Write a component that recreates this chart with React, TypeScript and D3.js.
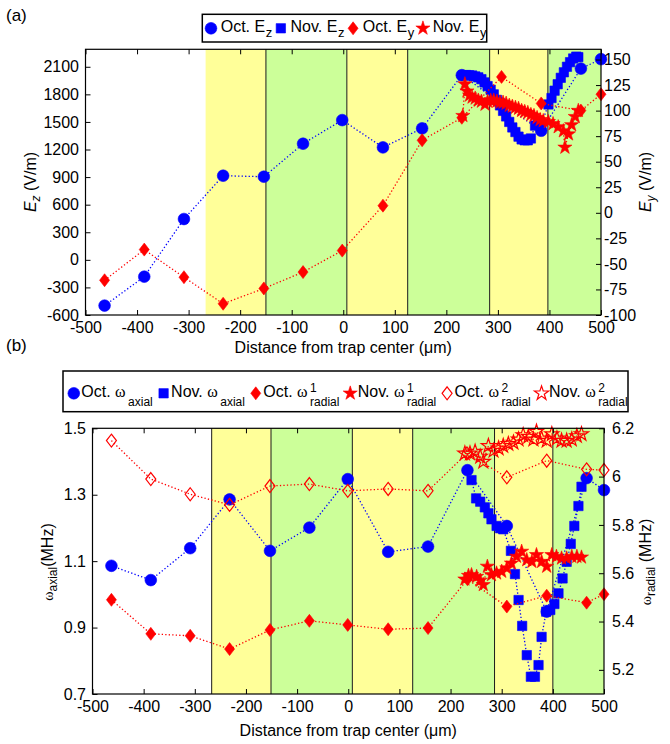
import React, { useEffect, useRef } from 'react';
import * as d3 from 'd3';

type Pt = [number, number];

const FONT = '"Liberation Sans", Arial, Helvetica, sans-serif';
const SYM_FONT = '"Liberation Serif", "DejaVu Serif", serif';
const BLUE = '#0000ff';
const RED = '#ff0000';

// ---------- panel (a): E fields vs distance (um) ----------
const octEz: Pt[] = [[-463, -498], [-386, -183], [-309, 444], [-233, 915], [-154, 904], [-78, 1263], [-2, 1520], [77, 1223], [153, 1430], [230, 2009], [307, 1700], [384, 1404], [461, 2080], [500, 2183]];
const novEz: Pt[] = [[232, 2005], [238, 2010], [244, 2008], [250, 2005], [256, 1995], [262, 1985], [268, 1965], [274, 1930], [280, 1890], [286, 1850], [292, 1800], [298, 1740], [304, 1680], [310, 1620], [316, 1560], [322, 1500], [328, 1440], [334, 1390], [340, 1340], [346, 1310], [352, 1300], [358, 1300], [364, 1320], [372, 1460], [378, 1480], [384, 1470], [398, 1690], [404, 1760], [410, 1840], [416, 1910], [422, 1980], [428, 2040], [434, 2100], [440, 2150], [446, 2190], [452, 2210], [456, 2205]];
const octEy: Pt[] = [[-463, -66], [-386, -36], [-309, -63], [-233, -89], [-154, -74], [-78, -58], [-2, -37], [77, 7], [153, 71], [230, 93], [307, 133], [384, 107], [461, 100], [500, 116]];
const novEy: Pt[] = [[232, 95], [236, 126], [240, 119], [245, 115], [250, 113], [256, 112], [262, 110], [268, 109], [275, 106], [280, 109], [286, 110], [292, 110], [298, 109], [304, 108], [310, 108], [316, 107], [322, 105], [328, 104], [334, 103], [340, 102], [346, 100], [352, 99], [358, 98], [364, 96], [370, 95], [376, 93], [382, 91], [388, 90], [398, 89], [407, 87], [417, 84], [427, 80], [430, 64], [437, 77], [443, 86], [450, 94], [456, 100]];

const xTicks = [-500, -400, -300, -200, -100, 0, 100, 200, 300, 400, 500];
const ezTicks = [-600, -300, 0, 300, 600, 900, 1200, 1500, 1800, 2100];
const eyTicks = [-100, -75, -50, -25, 0, 25, 50, 75, 100, 125, 150];

// ---------- panel (b): trap frequencies (MHz) ----------
const octAxial: Pt[] = [[-463, 1.086], [-386, 1.043], [-309, 1.139], [-232, 1.286], [-153, 1.131], [-76, 1.201], [-1, 1.347], [78, 1.128], [156, 1.144], [233, 1.374], [310, 1.206], [388, 0.948], [466, 1.35], [500, 1.314]];
const novAxial: Pt[] = [[241, 1.344], [250, 1.289], [258, 1.279], [267, 1.262], [274, 1.244], [280, 1.226], [290, 1.206], [297, 1.199], [303, 1.196], [318, 1.131], [326, 1.061], [333, 0.983], [340, 0.905], [349, 0.817], [357, 0.752], [365, 0.752], [372, 0.787], [378, 0.872], [387, 0.948], [395, 0.953], [403, 0.971], [411, 1.003], [419, 1.048], [427, 1.098], [435, 1.152], [442, 1.206], [450, 1.266], [456, 1.324]];
const octRad1: Pt[] = [[-463, 5.49], [-386, 5.349], [-309, 5.341], [-232, 5.286], [-153, 5.365], [-76, 5.403], [-1, 5.386], [78, 5.368], [156, 5.373], [233, 5.575], [310, 5.462], [388, 5.507], [466, 5.478], [500, 5.513]];
const novRad1: Pt[] = [[228, 5.575], [235, 5.59], [241, 5.593], [251, 5.586], [258, 5.57], [264, 5.552], [272, 5.628], [280, 5.593], [290, 5.6], [300, 5.607], [310, 5.621], [319, 5.641], [329, 5.669], [339, 5.69], [349, 5.655], [359, 5.648], [368, 5.676], [378, 5.648], [388, 5.628], [398, 5.676], [407, 5.669], [417, 5.662], [427, 5.662], [437, 5.669], [447, 5.669], [456, 5.666]];
const octRad2: Pt[] = [[-463, 6.149], [-386, 5.99], [-309, 5.927], [-232, 5.883], [-153, 5.961], [-76, 5.969], [-1, 5.941], [78, 5.949], [156, 5.941], [232, 6.096], [310, 5.997], [388, 6.066], [466, 6.03], [500, 6.027]];
const novRad2: Pt[] = [[228, 6.096], [238, 6.096], [248, 6.103], [258, 6.083], [264, 6.062], [274, 6.127], [284, 6.107], [294, 6.117], [303, 6.127], [313, 6.135], [323, 6.141], [333, 6.154], [342, 6.172], [352, 6.165], [362, 6.154], [368, 6.186], [378, 6.158], [388, 6.149], [398, 6.176], [408, 6.158], [417, 6.149], [427, 6.149], [437, 6.154], [447, 6.168], [456, 6.176]];

const axialTicks = [0.7, 0.9, 1.1, 1.3, 1.5];
const radialTicks = [5.2, 5.4, 5.6, 5.8, 6, 6.2];

// electrode regions (um), alternating yellow / green
const regionEdgesA = [-267, -150, 7, 125, 284, 397, 500];
const regionEdgesB = [-267, -151, 8, 126, 286, 400, 500];
const regionFill = ['#ffff99', '#ccff99', '#ffff99', '#ccff99', '#ffff99', '#ccff99'];

const diamondPath = (w: number, h: number) => `M0,${-h / 2}L${w / 2},0L0,${h / 2}L${-w / 2},0Z`;

function markerPath(kind: string): string {
  if (kind === 'circle') return d3.symbol(d3.symbolCircle, 108)() as string;
  if (kind === 'square') return d3.symbol(d3.symbolSquare, 88)() as string;
  if (kind === 'diamond') return diamondPath(10, 13);
  return d3.symbol(d3.symbolStar, 62)() as string;
}

function addMarker(g: any, kind: string, filled: boolean, color: string, x: number, y: number) {
  g.append('path')
    .attr('d', markerPath(kind))
    .attr('transform', `translate(${x},${y})`)
    .attr('fill', filled ? color : 'none')
    .attr('stroke', color)
    .attr('stroke-width', filled ? 0.6 : 1.2);
}

function styleAxis(ax: any) {
  ax.select('.domain').remove();
  ax.attr('color', '#000');
  ax.selectAll('text')
    .attr('font-size', 16)
    .attr('font-family', FONT)
    .attr('fill', '#000');
}

function drawPanel(svg: any, p: any) {
  const { box, yL, yR, edges, firstLine, series, ticksL, ticksR, padR } = p;
  const x = d3.scaleLinear().domain([-500, 500]).range([box.left, box.right]);
  const yl = d3.scaleLinear().domain(yL).range([box.bottom, box.top]);
  const yr = d3.scaleLinear().domain(yR).range([box.bottom, box.top]);
  const g = svg.append('g');

  // shaded electrode regions
  edges.slice(0, -1).forEach((e: number, i: number) => {
    g.append('rect')
      .attr('x', x(e))
      .attr('y', box.top)
      .attr('width', x(edges[i + 1]) - x(e))
      .attr('height', box.bottom - box.top)
      .attr('fill', regionFill[i]);
  });
  edges.slice(firstLine ? 0 : 1, -1).forEach((e: number) => {
    g.append('line')
      .attr('x1', x(e)).attr('x2', x(e))
      .attr('y1', box.top).attr('y2', box.bottom)
      .attr('stroke', '#1a1a1a')
      .attr('stroke-width', 1);
  });

  // series: dotted line + markers
  series.forEach((s: any) => {
    const ys = s.side === 'L' ? yl : yr;
    g.append('path')
      .datum(s.data)
      .attr('d', d3.line<Pt>().x(d => x(d[0])).y(d => ys(d[1])))
      .attr('fill', 'none')
      .attr('stroke', s.color)
      .attr('stroke-width', 1.3)
      .attr('stroke-dasharray', '1.3 2.2');
    s.data.forEach((d: Pt) => addMarker(g, s.marker, s.filled, s.color, x(d[0]), ys(d[1])));
  });

  // frame
  g.append('rect')
    .attr('x', box.left).attr('y', box.top)
    .attr('width', box.right - box.left).attr('height', box.bottom - box.top)
    .attr('fill', 'none').attr('stroke', '#000').attr('stroke-width', 1.2);

  const fmt = (d: any) => String(d);
  const axB = g.append('g').attr('transform', `translate(0,${box.bottom})`)
    .call(d3.axisBottom(x).tickValues(xTicks).tickSizeInner(-5).tickSizeOuter(0).tickPadding(6.5).tickFormat(fmt));
  styleAxis(axB);
  const axT = g.append('g').attr('transform', `translate(0,${box.top})`)
    .call(d3.axisTop(x).tickValues(xTicks).tickSizeInner(-5).tickSizeOuter(0).tickFormat(() => ''));
  styleAxis(axT);
  const axL = g.append('g').attr('transform', `translate(${box.left},0)`)
    .call(d3.axisLeft(yl).tickValues(ticksL).tickSizeInner(-5).tickSizeOuter(0).tickPadding(6.5).tickFormat(fmt));
  styleAxis(axL);
  const axR = g.append('g').attr('transform', `translate(${box.right},0)`)
    .call(d3.axisRight(yr).tickValues(ticksR).tickSizeInner(-5).tickSizeOuter(0).tickPadding(padR).tickFormat(fmt));
  styleAxis(axR);

  // x label
  g.append('text')
    .attr('x', (box.left + box.right) / 2)
    .attr('y', p.xLabelY)
    .attr('text-anchor', 'middle')
    .attr('font-family', FONT)
    .attr('font-size', 16)
    .text('Distance from trap center (\u03bcm)');
}

function yTitle(svg: any, cx: number, cy: number, parts: any[]) {
  const t = svg.append('text')
    .attr('transform', `translate(${cx},${cy}) rotate(-90)`)
    .attr('text-anchor', 'middle')
    .attr('font-family', FONT)
    .attr('font-size', 16);
  parts.forEach(pt => {
    const s = t.append('tspan').text(pt.t);
    if (pt.size) s.attr('font-size', pt.size);
    if (pt.italic) s.attr('font-style', 'italic');
    if (pt.sym) s.attr('font-family', SYM_FONT);
    if (pt.dy) s.attr('dy', pt.dy);
  });
}

function drawLegend(svg: any, box: any, entries: any[], o: any) {
  const g = svg.append('g');
  g.append('rect')
    .attr('x', box.x).attr('y', box.y).attr('width', box.w).attr('height', box.h)
    .attr('fill', '#fff').attr('stroke', '#000').attr('stroke-width', 1.5);
  let cursor = box.x;
  entries.forEach(e => {
    const mx = cursor + o.markerGap;
    addMarker(g, e.marker, e.filled, e.color, mx, o.markerY);
    const tx = mx + o.textGap;
    const t = g.append('text')
      .attr('x', tx).attr('y', o.baseline)
      .attr('font-family', FONT).attr('font-size', 16);
    t.append('tspan').text(e.label);
    if (e.sym) t.append('tspan').attr('font-family', SYM_FONT).attr('font-size', o.symSize).text(e.sym);
    const w = (t.node() as SVGTextElement).getComputedTextLength();
    const sx = tx + w + o.subGap;
    let end = sx;
    if (e.sup) {
      const s = g.append('text').attr('x', sx).attr('y', o.baseline + o.supDy)
        .attr('font-family', FONT).attr('font-size', o.smallSize).text(e.sup);
      end = Math.max(end, sx + (s.node() as SVGTextElement).getComputedTextLength());
    }
    if (e.sub) {
      const s = g.append('text').attr('x', sx).attr('y', o.baseline + o.subDy)
        .attr('font-family', FONT).attr('font-size', o.smallSize).text(e.sub);
      end = Math.max(end, sx + (s.node() as SVGTextElement).getComputedTextLength());
    }
    cursor = end;
  });
}

const App = () => {
  const svgRef = useRef<SVGSVGElement>(null);

  useEffect(() => {
    const svg = d3.select(svgRef.current);
    svg.selectAll('*').remove();

    // panel (a)
    drawPanel(svg, {
      box: { left: 85.5, right: 601, top: 49.3, bottom: 315 },
      yL: [-600, 2290], yR: [-100, 160],
      edges: regionEdgesA, firstLine: false,
      ticksL: ezTicks, ticksR: eyTicks, padR: 3,
      xLabelY: 353,
      series: [
        { data: octEz, side: 'L', color: BLUE, marker: 'circle', filled: true },
        { data: novEz, side: 'L', color: BLUE, marker: 'square', filled: true },
        { data: octEy, side: 'R', color: RED, marker: 'diamond', filled: true },
        { data: novEy, side: 'R', color: RED, marker: 'star', filled: true },
      ],
    });
    yTitle(svg, 36, 182, [
      { t: 'E', italic: true },
      { t: 'z', italic: true, size: 12, dy: 4 },
      { t: ' (V/m)', dy: -4 },
    ]);
    yTitle(svg, 651, 182, [
      { t: 'E', italic: true },
      { t: 'y', italic: true, size: 12, dy: 4 },
      { t: ' (V/m)', dy: -4 },
    ]);
    drawLegend(svg, { x: 202.3, y: 14.3, w: 284.4, h: 27.7 }, [
      { marker: 'circle', filled: true, color: BLUE, label: 'Oct. E', sub: 'z' },
      { marker: 'square', filled: true, color: BLUE, label: 'Nov. E', sub: 'z' },
      { marker: 'diamond', filled: true, color: RED, label: 'Oct. E', sub: 'y' },
      { marker: 'star', filled: true, color: RED, label: 'Nov. E', sub: 'y' },
    ], { markerGap: 8.7, textGap: 9.7, markerY: 28.3, baseline: 31.7, subGap: 0.5, subDy: 5.5, supDy: -6, smallSize: 13, symSize: 16 });

    // panel (b)
    drawPanel(svg, {
      box: { left: 92.5, right: 604, top: 428.3, bottom: 694 },
      yL: [0.7, 1.5], yR: [5.1, 6.2],
      edges: regionEdgesB, firstLine: true,
      ticksL: axialTicks, ticksR: radialTicks, padR: 8,
      xLabelY: 736,
      series: [
        { data: octAxial, side: 'L', color: BLUE, marker: 'circle', filled: true },
        { data: novAxial, side: 'L', color: BLUE, marker: 'square', filled: true },
        { data: octRad1, side: 'R', color: RED, marker: 'diamond', filled: true },
        { data: novRad1, side: 'R', color: RED, marker: 'star', filled: true },
        { data: octRad2, side: 'R', color: RED, marker: 'diamond', filled: false },
        { data: novRad2, side: 'R', color: RED, marker: 'star', filled: false },
      ],
    });
    yTitle(svg, 53, 562, [
      { t: '\u03c9', sym: true, size: 14 },
      { t: 'axial', size: 12, dy: 4 },
      { t: '(MHz)', dy: -4 },
    ]);
    yTitle(svg, 651, 562, [
      { t: '\u03c9', sym: true, size: 14 },
      { t: 'radial', size: 12, dy: 4 },
      { t: ' (MHz)', dy: -4 },
    ]);
    drawLegend(svg, { x: 63, y: 371, w: 565, h: 40.7 }, [
      { marker: 'circle', filled: true, color: BLUE, label: 'Oct. ', sym: '\u03c9', sub: 'axial' },
      { marker: 'square', filled: true, color: BLUE, label: 'Nov. ', sym: '\u03c9', sub: 'axial' },
      { marker: 'diamond', filled: true, color: RED, label: 'Oct. ', sym: '\u03c9', sup: '1', sub: 'radial' },
      { marker: 'star', filled: true, color: RED, label: 'Nov. ', sym: '\u03c9', sup: '1', sub: 'radial' },
      { marker: 'diamond', filled: false, color: RED, label: 'Oct. ', sym: '\u03c9', sup: '2', sub: 'radial' },
      { marker: 'star', filled: false, color: RED, label: 'Nov. ', sym: '\u03c9', sup: '2', sub: 'radial' },
    ], { markerGap: 10.8, textGap: 7.5, markerY: 393.3, baseline: 396.7, subGap: 2.5, subDy: 9.5, supDy: -4.5, smallSize: 12, symSize: 16 });

    // panel tags
    svg.append('text').attr('x', 6).attr('y', 21).attr('font-family', FONT).attr('font-size', 17).text('(a)');
    svg.append('text').attr('x', 6).attr('y', 351).attr('font-family', FONT).attr('font-size', 17).text('(b)');
  }, []);

  return (
    <svg
      ref={svgRef}
      width={670}
      height={744}
      style={{ position: 'absolute', left: 0, top: 0, background: '#fff' }}
    ></svg>
  );
};

export default App;
